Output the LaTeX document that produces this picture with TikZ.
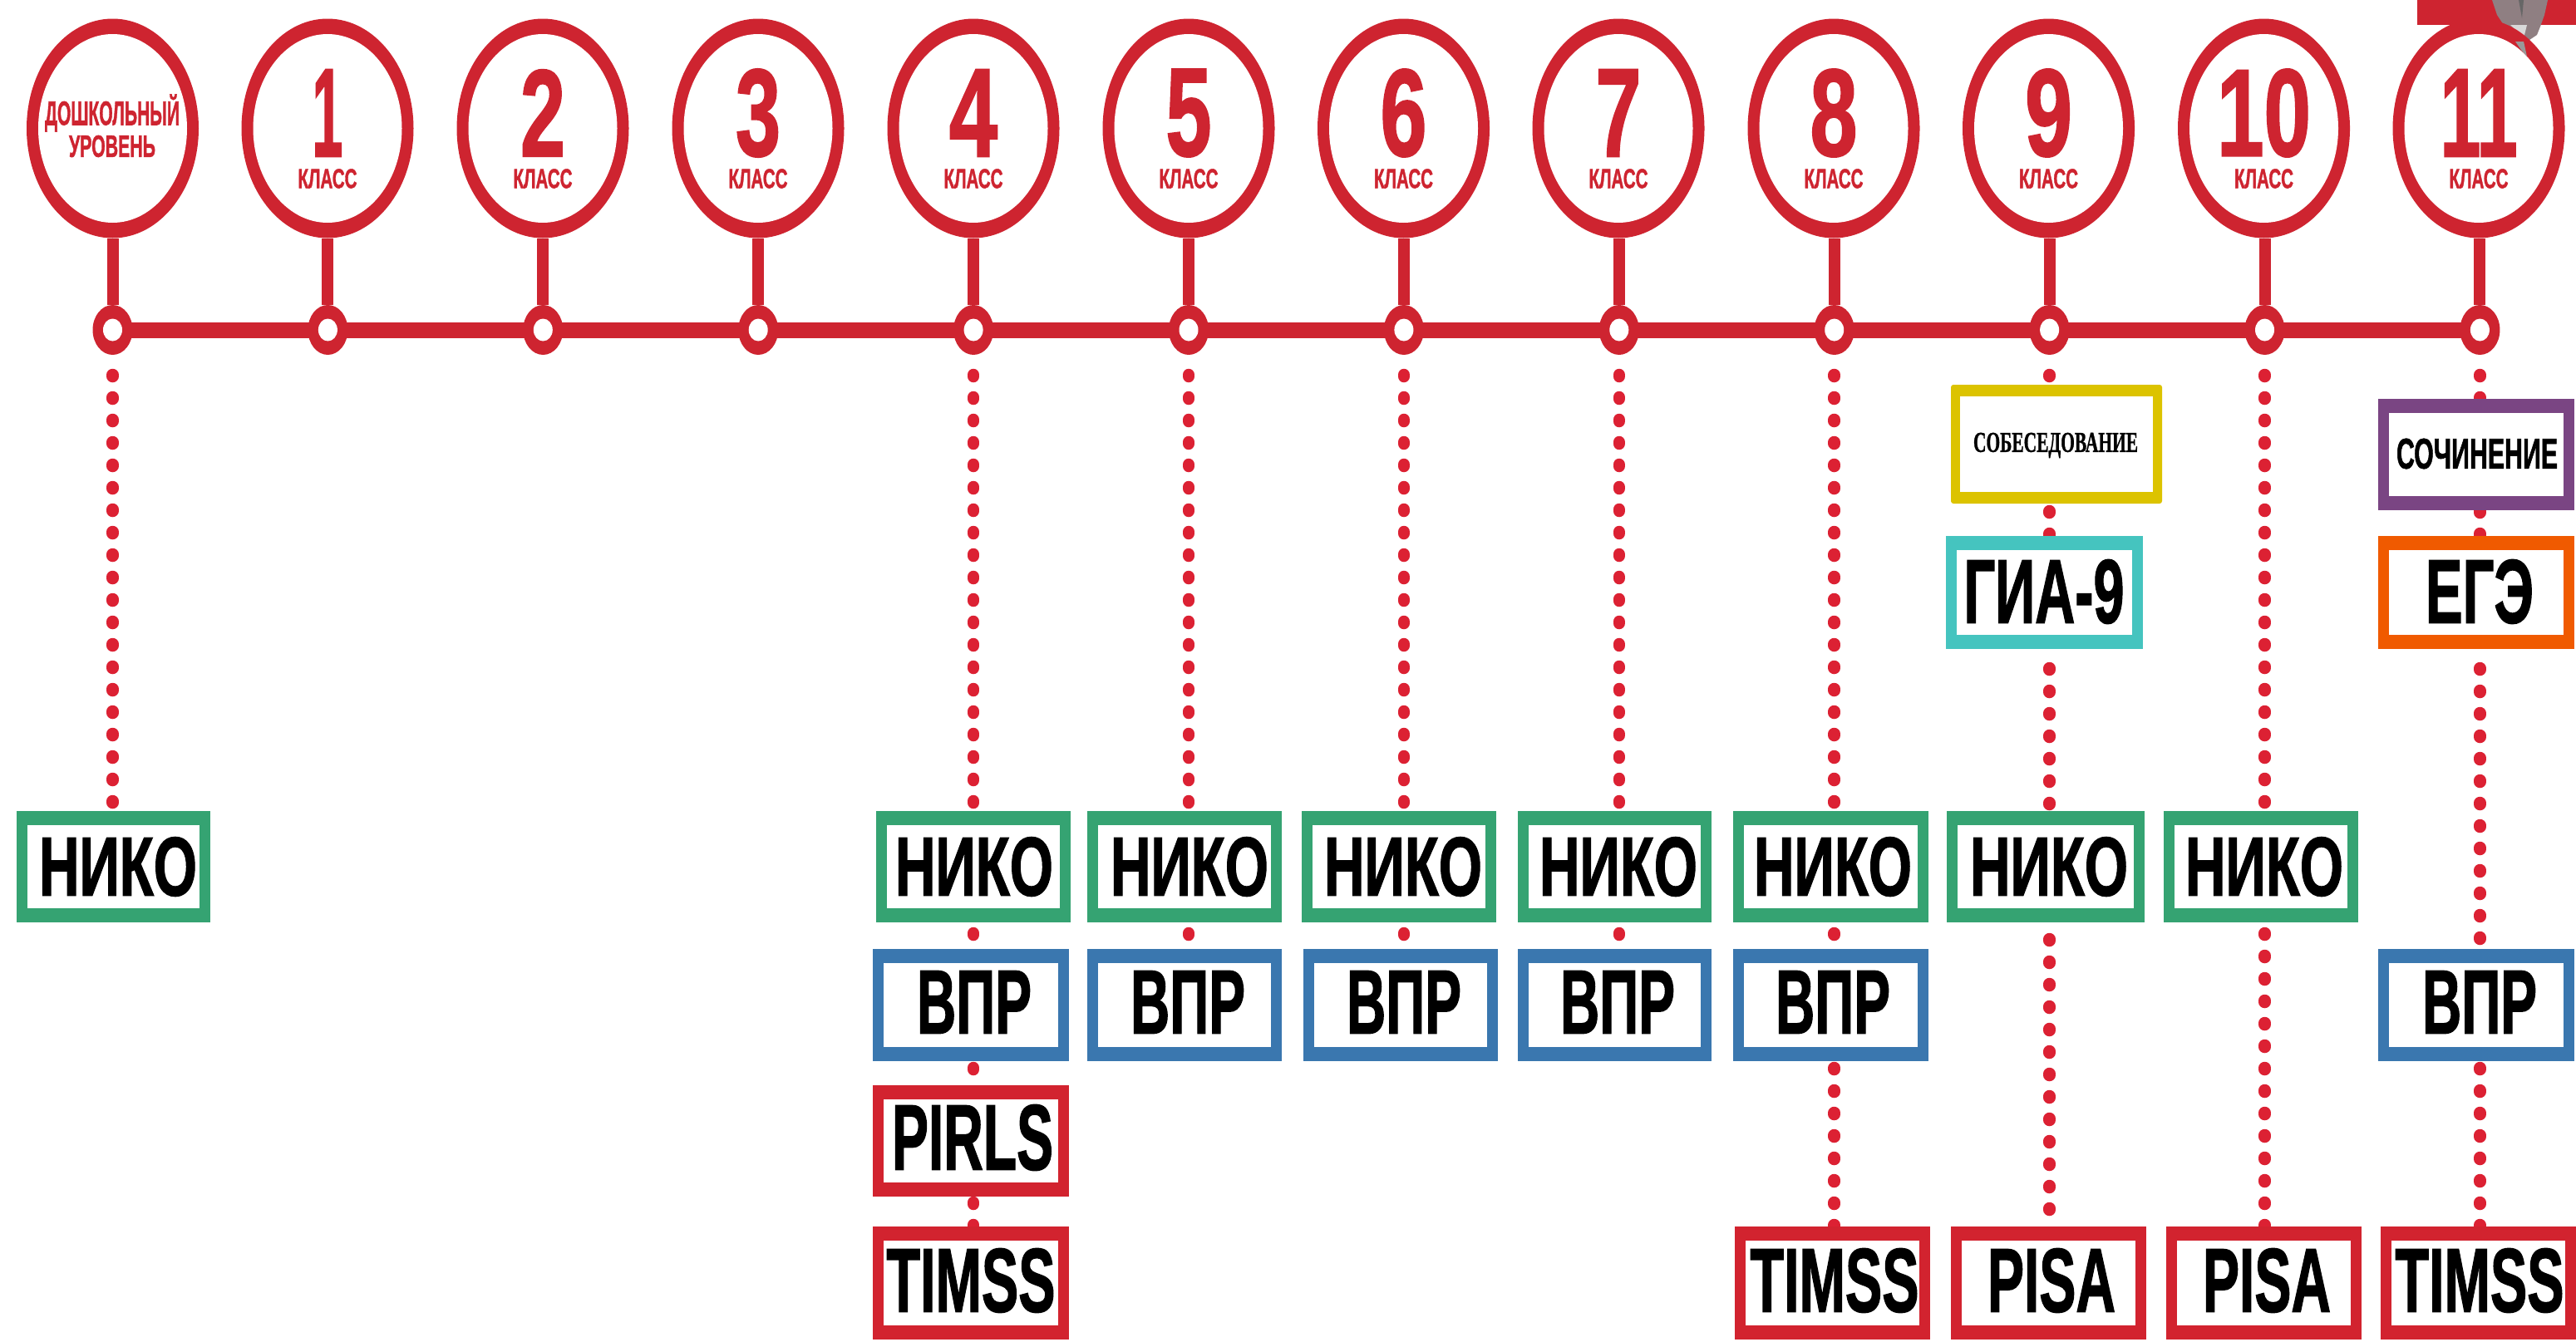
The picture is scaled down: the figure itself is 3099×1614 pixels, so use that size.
\documentclass[tikz,border=0pt]{standalone}
\usepackage{fontspec}
\setmainfont[BoldFeatures={FakeBold=1.6}]{Liberation Sans}
\newfontfamily\serifbold[BoldFeatures={FakeBold=1.2}]{Liberation Serif}
\usetikzlibrary{shapes.geometric,backgrounds}
\definecolor{rd}{HTML}{CE2430}
\definecolor{dotrd}{HTML}{DC2133}
\definecolor{grn}{HTML}{35A372}
\definecolor{blu}{HTML}{3A77AF}
\definecolor{boxrd}{HTML}{D2232F}
\definecolor{yel}{HTML}{DCC300}
\definecolor{tea}{HTML}{45C4BF}
\definecolor{pur}{HTML}{7A4583}
\definecolor{ora}{HTML}{F05A00}
\definecolor{emb}{HTML}{8F7F82}
\tikzset{
  x=1pt,y=-1pt,
  outerring/.style={ellipse,fill=rd,minimum width=207pt,minimum height=264pt,inner sep=0pt,outer sep=0pt},
  innerring/.style={ellipse,fill=white,minimum width=179pt,minimum height=227pt,inner sep=0pt},
  joint/.style={ellipse,fill=rd,minimum width=48pt,minimum height=60pt,inner sep=0pt,outer sep=0pt},
  jointhole/.style={ellipse,fill=white,minimum width=23pt,minimum height=27pt,inner sep=0pt},
  boxshape/.style={rectangle,inner sep=0pt,outer sep=0pt},
  lbl/.style={inner sep=0pt,outer sep=0pt,text=black,font=\bfseries},
  redlbl/.style={inner sep=0pt,outer sep=0pt,text=rd,font=\bfseries},
  stem/.style={draw=rd,line width=14pt},
  rail/.style={draw=rd,line width=19pt},
  dots/.style={draw=dotrd,line width=14.5pt,line cap=round,dash pattern=on 2pt off 25pt},
}
% x1 y1 x2 y2 name colour textcx textcy content
\newcommand\bbox[9]{%
  \node[boxshape,fill=#6,minimum width={(#3-#1)*1pt},minimum height={(#4-#2)*1pt}] (#5) at ({(#1+#3)/2},{(#2+#4)/2}) {};
  \fill[white] ([xshift=13pt,yshift=17pt]#5.south west) rectangle ([xshift=-13pt,yshift=-17pt]#5.north east);
  \node[lbl] (#5t) at (#7,#8) {#9};
}
\newcommand\grade[5]{% index, joint x, number, number width, circle x
  \node[outerring] (c#1) at (#5,154.5) {};
  \node[innerring] at (c#1) {};
  \node[joint] (j#1) at (#2,397) {};
  \node[jointhole] at (j#1) {};
  \draw[stem] (j#1 |- c#1.south) -- (j#1.north);
  \node[redlbl] (n#1) at (#5,136) {\resizebox{#4pt}{104pt}{#3}};
  \node[redlbl] (k#1) at (#5,215) {\resizebox{71pt}{23pt}{КЛАСС}};
}
\newcommand\nik[1]{\resizebox{190pt}{70pt}{НИКО}}
\newcommand\vpr{\resizebox{138pt}{75pt}{ВПР}}
\newcommand\tms{\resizebox{203pt}{76pt}{TIMSS}}
\newcommand\psa{\resizebox{154pt}{76pt}{PISA}}
\begin{document}
\begin{tikzpicture}
\useasboundingbox (0,0) rectangle (3099,1614);
% preschool
\node[outerring] (c0) at (135.5,154.5) {};
\node[innerring] at (c0) {};
\node[joint] (j0) at (135.5,397) {};
\node[jointhole] at (j0) {};
\draw[stem] (c0.south) -- (j0.north);
\node[redlbl] (p1) at (135,136) {\resizebox{162pt}{37pt}{ДОШКОЛЬНЫЙ}};
\node[redlbl] (p2) at (135,176) {\resizebox{104pt}{26pt}{УРОВЕНЬ}};
\grade{1}{394.4}{1}{37}{394}
\grade{2}{653.3}{2}{54}{653}
\grade{3}{912.2}{3}{54}{912}
\grade{4}{1171.1}{4}{58}{1171}
\grade{5}{1430}{5}{55}{1430}
\grade{6}{1688.9}{6}{56}{1688.5}
\grade{7}{1947.8}{7}{55}{1947}
\grade{8}{2206.7}{8}{57}{2206}
\grade{9}{2465.6}{9}{57}{2464.5}
\grade{10}{2724.5}{10}{113}{2723.5}
\fill[rd] (2908,0) rectangle (3099,30);
\fill[emb] (2998,0) -- (3065,0) -- (3061,18) -- (3056,32) -- (3052,42) -- (3043,48) -- (3040,68) -- (3036,50) -- (3028,40) -- (3012,30) -- (3004,18) -- cycle;
\fill[black!15] (3020,30) -- (3040,30) -- (3036,46) -- (3028,38) -- cycle;
\fill[black!60] (3030,0) -- (3036,0) -- (3034,22) -- cycle;
\grade{11}{2983.4}{11}{93}{2982}
\fill[black!40] (3026,50) -- (3036,50) -- (3040,68) -- (3033,60) -- cycle;
% boxes
\bbox{20}{975.5}{253}{1110}{nk0}{grn}{142}{1043}{\nik{}}
\bbox{1054}{975.5}{1288}{1110}{nk4}{grn}{1172}{1043}{\nik{}}
\bbox{1308}{975.5}{1542}{1110}{nk5}{grn}{1431}{1043}{\nik{}}
\bbox{1566}{975.5}{1800}{1110}{nk6}{grn}{1688}{1043}{\nik{}}
\bbox{1826}{975.5}{2059}{1110}{nk7}{grn}{1947}{1043}{\nik{}}
\bbox{2085}{975.5}{2320}{1110}{nk8}{grn}{2205}{1043}{\nik{}}
\bbox{2342}{975.5}{2580}{1110}{nk9}{grn}{2465}{1043}{\nik{}}
\bbox{2603}{975.5}{2837}{1110}{nk10}{grn}{2724}{1043}{\nik{}}
\bbox{1050}{1142}{1286}{1277}{vp4}{blu}{1172}{1206}{\vpr}
\bbox{1308}{1142}{1542}{1277}{vp5}{blu}{1429}{1206}{\vpr}
\bbox{1568}{1142}{1802}{1277}{vp6}{blu}{1689}{1206}{\vpr}
\bbox{1826}{1142}{2059}{1277}{vp7}{blu}{1946}{1206}{\vpr}
\bbox{2085}{1142}{2320}{1277}{vp8}{blu}{2205}{1206}{\vpr}
\bbox{2861}{1142}{3097}{1277}{vp11}{blu}{2983}{1206}{\vpr}
\bbox{1050}{1306}{1286}{1440}{pr4}{boxrd}{1170}{1369}{\resizebox{194pt}{78pt}{PIRLS}}
\bbox{1050}{1476}{1286}{1612}{tm4}{boxrd}{1168}{1541}{\tms}
\bbox{2087}{1476}{2322}{1612}{tm8}{boxrd}{2207}{1541}{\tms}
\bbox{2347}{1476}{2582}{1612}{ps9}{boxrd}{2468}{1541}{\psa}
\bbox{2606}{1476}{2841}{1612}{ps10}{boxrd}{2727}{1541}{\psa}
\bbox{2864}{1476}{3099}{1612}{tm11}{boxrd}{2983}{1541}{\tms}
\bbox{2341}{645}{2578}{781}{gia}{tea}{2459}{712}{\resizebox{193pt}{76pt}{ГИА-9}}
\bbox{2861}{645}{3097}{781}{ege}{ora}{2983}{712}{\resizebox{130pt}{76pt}{ЕГЭ}}
\bbox{2861}{480}{3097}{614}{soch}{pur}{2980}{546}{\resizebox{194pt}{36pt}{СОЧИНЕНИЕ}}
\node[boxshape,fill=yel,rounded corners=3pt,minimum width=254pt,minimum height=143pt] (sob) at (2474,534.5) {};
\fill[white] ([xshift=11pt,yshift=14pt]sob.south west) rectangle ([xshift=-11pt,yshift=-14pt]sob.north east);
\node[lbl] (sobt) at (2473,536) {\resizebox{198pt}{23pt}{\serifbold\bfseries СОБЕСЕДОВАНИЕ}};
% rail and dotted connectors
\begin{scope}[on background layer]
  \fill[white] (0,0) rectangle (3099,1614);
  \draw[rail] (j0.center) -- (j11.center);
  \draw[dots,dash phase=3pt] (j0) -- (j0 |- nk0.north);
  \foreach \c in {4,5,6,7,8,10} {\draw[dots,dash phase=3pt] (j\c) -- (j\c |- nk\c.north);}
  \foreach \c in {4,5,6,7,8} {\draw[dots,dash phase=14pt] (j\c |- nk\c.south) -- (j\c |- vp\c.north);}
  \draw[dots,dash phase=19pt] (j4 |- vp4.south) -- (j4 |- pr4.north);
  \draw[dots,dash phase=20pt] (j4 |- pr4.south) -- (j4 |- tm4.north);
  \draw[dots,dash phase=19pt] (j8 |- vp8.south) -- (j8 |- tm8.north);
  \draw[dots,dash phase=3pt] (j9) -- (j9 |- sob.north);
  \draw[dots,dash phase=18pt] (j9 |- sob.south) -- (j9 |- gia.north);
  \draw[dots,dash phase=4pt] (j9 |- gia.south) -- (j9 |- nk9.north);
  \draw[dots,dash phase=7pt] (j9 |- nk9.south) -- (j9 |- ps9.north);
  \draw[dots,dash phase=14pt] (j10 |- nk10.south) -- (j10 |- ps10.north);
  \draw[dots,dash phase=3pt] (j11) -- (j11 |- soch.north);
  \draw[dots,dash phase=26pt] (j11 |- soch.south) -- (j11 |- ege.north);
  \draw[dots,dash phase=4pt] (j11 |- ege.south) -- (j11 |- vp11.north);
  \draw[dots,dash phase=19pt] (j11 |- vp11.south) -- (j11 |- tm11.north);
\end{scope}
\end{tikzpicture}
\end{document}
